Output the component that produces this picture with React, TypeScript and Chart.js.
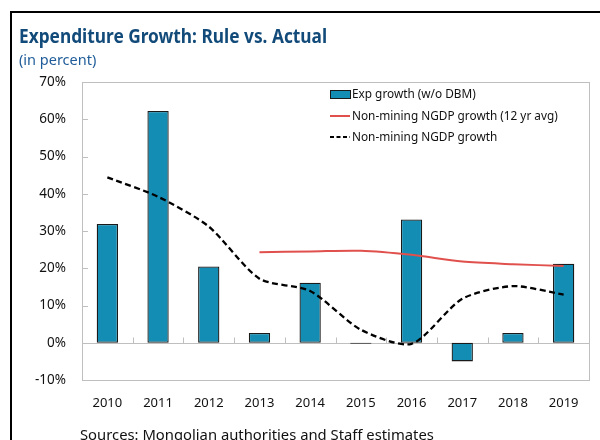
import React, { useEffect, useRef } from "react";
import { Chart, registerables } from "chart.js";

Chart.register(...registerables);

const categories = ["2010", "2011", "2012", "2013", "2014", "2015", "2016", "2017", "2018", "2019"];
const expGrowth = [31.9, 62.2, 20.5, 2.6, 16.1, -0.3, 33.1, -5.0, 2.6, 21.2];
const ngdpAvg = [null, null, null, 24.3, 24.5, 24.7, 23.6, 21.8, 21.1, 20.6];
const ngdpGrowth = [44.4, 39.2, 31.2, 17.2, 13.9, 3.5, -0.3, 11.8, 15.2, 12.9];
const yTicks = [-10, 0, 10, 20, 30, 40, 50, 60, 70];
const legendLabels = ["Exp growth (w/o DBM)", "Non-mining NGDP growth (12 yr avg)", "Non-mining NGDP growth"];

const FONT = "'Noto Sans', 'Open Sans', sans-serif";
const BAR_COLOR = "#138DB3";
const RED = "#E0504C";
const FRAME = "#BFBFBF";

const framePlugin = {
  id: "frameDecor",
  beforeDatasetsDraw(chart: any) {
    const { ctx, chartArea: a, scales } = chart;
    const x = scales.x;
    const y = scales.y;
    ctx.save();
    ctx.strokeStyle = FRAME;
    ctx.lineWidth = 1;
    ctx.strokeRect(Math.round(a.left) + 0.5, Math.round(a.top) + 0.5, Math.round(a.right - a.left), Math.round(a.bottom - a.top));
    const zy = Math.round(y.getPixelForValue(0)) + 0.5;
    ctx.beginPath();
    ctx.moveTo(a.left, zy);
    ctx.lineTo(a.right, zy);
    yTicks.forEach((v) => {
      const py = Math.round(y.getPixelForValue(v)) + 0.5;
      ctx.moveTo(a.left, py);
      ctx.lineTo(a.left + 6, py);
    });
    for (let i = 1; i < categories.length; i++) {
      const px = Math.round((x.getPixelForValue(i - 1) + x.getPixelForValue(i)) / 2) + 0.5;
      ctx.moveTo(px, zy);
      ctx.lineTo(px, zy - 6);
    }
    ctx.stroke();
    ctx.restore();
  },
};

const legendPlugin = {
  id: "insideLegend",
  afterDatasetsDraw(chart: any) {
    const { ctx, chartArea: a } = chart;
    const sx = a.left + 248;
    const tx = sx + 22;
    const rows = [a.top + 12, a.top + 34, a.top + 55];
    ctx.save();
    ctx.font = `11.8px ${FONT}`;
    ctx.textBaseline = "middle";
    ctx.textAlign = "left";
    ctx.fillStyle = BAR_COLOR;
    ctx.fillRect(sx, rows[0] - 4, 20, 8);
    ctx.strokeStyle = "#1a1a1a";
    ctx.lineWidth = 1;
    ctx.strokeRect(sx + 0.5, rows[0] - 4 + 0.5, 20, 8);
    ctx.strokeStyle = RED;
    ctx.lineWidth = 2;
    ctx.beginPath();
    ctx.moveTo(sx, rows[1]);
    ctx.lineTo(sx + 20, rows[1]);
    ctx.stroke();
    ctx.strokeStyle = "#000";
    ctx.lineWidth = 2;
    ctx.setLineDash([4, 2.5]);
    ctx.beginPath();
    ctx.moveTo(sx, rows[2]);
    ctx.lineTo(sx + 20, rows[2]);
    ctx.stroke();
    ctx.setLineDash([]);
    ctx.fillStyle = "#111";
    legendLabels.forEach((t, i) => ctx.fillText(t, tx, rows[i] + 0.5));
    ctx.restore();
  },
};

export default function App() {
  const ref = useRef<HTMLCanvasElement>(null);
  useEffect(() => {
    if (!ref.current) return;
    const chart = new Chart(ref.current, {
      type: "bar",
      data: {
        labels: categories,
        datasets: [
          {
            type: "bar",
            label: legendLabels[0],
            data: expGrowth,
            backgroundColor: BAR_COLOR,
            borderColor: "#1a1a1a",
            borderWidth: 1.3,
            borderSkipped: false,
            categoryPercentage: 1,
            barPercentage: 0.42,
            order: 3,
          },
          {
            type: "line",
            label: legendLabels[1],
            data: ngdpAvg as any,
            borderColor: RED,
            borderWidth: 2,
            pointRadius: 0,
            tension: 0.3,
            fill: false,
            order: 2,
          },
          {
            type: "line",
            label: legendLabels[2],
            data: ngdpGrowth,
            borderColor: "#000",
            borderWidth: 2.3,
            borderDash: [6, 3.5],
            pointRadius: 0,
            tension: 0.25,
            fill: false,
            order: 1,
          },
        ] as any,
      },
      options: {
        responsive: false,
        animation: false,
        layout: { padding: { left: 0, top: 82, right: 11, bottom: 20 } },
        plugins: { legend: { display: false }, tooltip: { enabled: false }, title: { display: false } },
        scales: {
          x: {
            grid: { display: false, drawTicks: false, tickLength: 0 },
            border: { display: false },
            ticks: { color: "#111", font: { family: FONT, size: 13 }, padding: 15, maxRotation: 0 },
            afterFit: (s: any) => {
              s.height = 40;
            },
          },
          y: {
            min: -10,
            max: 70,
            grid: { display: false, drawTicks: false, tickLength: 0 },
            border: { display: false },
            ticks: {
              stepSize: 10,
              color: "#111",
              font: { family: FONT, size: 13.5 },
              padding: 16,
              callback: (v: any) => `${v}%`,
            },
            afterFit: (s: any) => {
              s.width = 82;
            },
          },
        },
      },
      plugins: [framePlugin, legendPlugin],
    });
    return () => chart.destroy();
  }, []);

  return (
    <div style={{ position: "fixed", left: 0, top: 0, width: 600, height: 440, overflow: "hidden", background: "#fff" }}>
      <div
        style={{
          position: "absolute",
          left: 10,
          top: 11,
          width: 700,
          height: 600,
          borderLeft: "2px solid #000",
          borderTop: "2px solid #000",
        }}
      />
      <canvas ref={ref} width={600} height={440} style={{ position: "absolute", left: 0, top: 0 }} />
      <div
        style={{
          position: "absolute",
          left: 19,
          top: 23,
          fontFamily: FONT,
          fontWeight: 700,
          fontSize: 19,
          color: "#124B7A",
          whiteSpace: "nowrap",
          lineHeight: "26px",
          transform: "scaleX(0.91)",
          transformOrigin: "0 0",
        }}
      >
        Expenditure Growth: Rule vs. Actual
      </div>
      <div
        style={{
          position: "absolute",
          left: 19,
          top: 50,
          fontFamily: FONT,
          fontSize: 14.5,
          color: "#1F5C99",
          whiteSpace: "nowrap",
          lineHeight: "18px",
        }}
      >
        (in percent)
      </div>
      <div
        style={{
          position: "absolute",
          left: 80,
          top: 424,
          fontFamily: FONT,
          fontSize: 14.8,
          color: "#111",
          whiteSpace: "nowrap",
          lineHeight: "20px",
        }}
      >
        Sources: Mongolian authorities and Staff estimates
      </div>
    </div>
  );
}
